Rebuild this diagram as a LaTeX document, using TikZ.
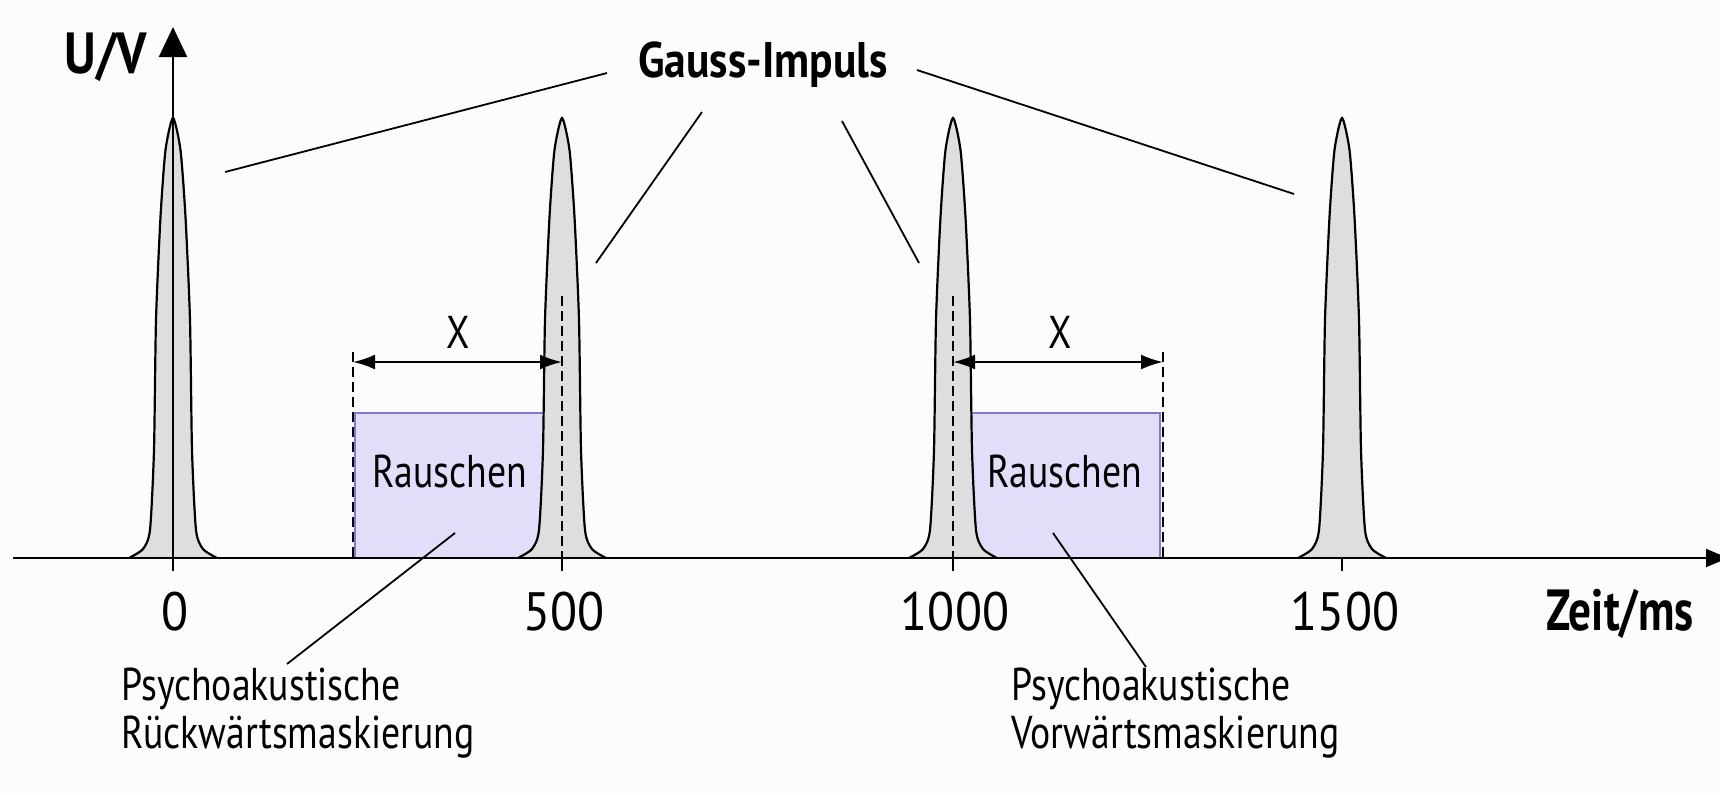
\documentclass[tikz,border=0pt]{standalone}
\usepackage{fontspec}
\setmainfont[FakeStretch=0.82]{PT Sans}
\newfontfamily\numfont[FakeStretch=0.92]{PT Sans}
\newfontfamily\headfont[FakeStretch=0.87]{PT Sans}
\newfontfamily\unitfont[FakeStretch=0.78]{PT Sans}
\usetikzlibrary{arrows.meta}

\definecolor{bgcol}{RGB}{252,252,254}
\definecolor{noisefill}{RGB}{226,222,250}
\definecolor{noiseedge}{RGB}{132,120,204}
\definecolor{pulsefill}{RGB}{222,222,222}

\begin{document}
\begin{tikzpicture}[
    x=0.5pt, y=-0.5pt,
    every node/.style={inner sep=0pt, anchor=base, font=\fontsize{23}{24}\selectfont},
    ticklabel/.style={font=\fontsize{27}{27}\selectfont\numfont},
    pulse/.style={draw=black, line width=1.1pt, fill=pulsefill},
    leader/.style={line width=0.9pt},
    guide/.style={line width=1pt, dash pattern=on 5pt off 2.5pt},
    axis/.style={line width=1pt},
    dimline/.style={line width=1.2pt, {Latex[length=11pt,width=7.5pt]}-{Latex[length=11pt,width=7.5pt]}},
    noisebox/.style={draw=noiseedge, fill=noisefill, line width=1pt, anchor=center, minimum width=103.5pt, minimum height=72.5pt}
]
    \fill[bgcol] (0,0) rectangle (1720,794);
    \useasboundingbox (0,0) rectangle (1720,794);

    % noise bursts
    \node[noisebox] (noiseL) at (458.5,485.5) {};
    \node[noisebox] (noiseR) at (1056.5,485.5) {};

    % pulses
    \foreach \c in {173,562,953,1342} {
	\draw[pulse, shift={(\c,0)}] plot[smooth, tension=0.4] coordinates {(-44,558) (-30,549) (-23,530) (-19,450) (-17,320) (-12.5,217) (-7.5,150) (0,118) (7.5,150) (12.5,217) (17,320) (19,450) (23,530) (30,549) (44,558)};
	\draw[axis] (\c,558) -- (\c,571);
    }

    \node (rauschL) at (450,487) {Rauschen};
    \node (rauschR) at (1065,487) {Rauschen};

    % axes
    \coordinate (xstart) at (13,558);
    \coordinate (xend) at (1728,558);
    \coordinate (ybottom) at (173,558);
    \coordinate (ytop) at (173,27);
    \draw[axis, -{Triangle[length=11pt,width=9pt]}] (xstart) -- (xend);
    \draw[axis, -{Triangle[length=15pt,width=14pt]}] (ybottom) -- (ytop);

    % guides and widths
    \coordinate (gl) at (353,352);
    \coordinate (gr) at (1163,352);
    \draw[guide] (gl) -- (353,558);
    \draw[guide] (gr) -- (1163,558);
    \draw[guide] (562,296) -- (562,558);
    \draw[guide] (953,296) -- (953,558);
    \draw[dimline] (353,362) -- (562,362);
    \draw[dimline] (953,362) -- (1163,362);
    \node (xL) at (458,348) {X};
    \node (xR) at (1060,348) {X};

    % labels
    \node[font=\fontsize{29}{29}\selectfont\headfont\bfseries] (lblU) at (106,73) {U/V};
    \node[font=\fontsize{25}{25}\selectfont\headfont\bfseries] (lblGauss) at (763,77) {Gauss-Impuls};
    \node[font=\fontsize{29}{29}\selectfont\unitfont\bfseries] (lblZeit) at (1620,630) {Zeit/ms};
    \node[ticklabel] (t0) at (175,630) {0};
    \node[ticklabel] (t500) at (564,630) {500};
    \node[ticklabel] (t1000) at (955,630) {1000};
    \node[ticklabel] (t1500) at (1345,630) {1500};
    \node[align=left, anchor=base west] (psyR) at (121,748) {Psychoakustische\\Rückwärtsmaskierung};
    \node[align=left, anchor=base west] (psyV) at (1011,748) {Psychoakustische\\Vorwärtsmaskierung};

    % leader lines
    \coordinate (g1) at (607,73);
    \coordinate (g2) at (702,112);
    \coordinate (g3) at (842,121);
    \coordinate (g4) at (917,70);
    \coordinate (p0) at (225,172);
    \coordinate (p500) at (596,263);
    \coordinate (p1000) at (919,263);
    \coordinate (p1500) at (1294,194);
    \draw[leader] (g1) -- (p0);
    \draw[leader] (g2) -- (p500);
    \draw[leader] (g3) -- (p1000);
    \draw[leader] (g4) -- (p1500);
    \coordinate (rL) at (287,664);
    \coordinate (rV) at (1146,667);
    \draw[leader] (rL) -- (455,533);
    \draw[leader] (rV) -- (1053,533);
\end{tikzpicture}
\end{document}
